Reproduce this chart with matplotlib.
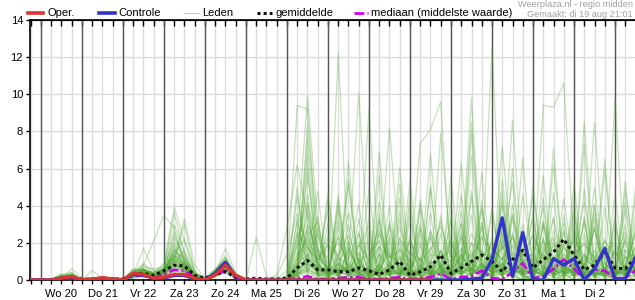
import matplotlib
matplotlib.use("Agg")
from matplotlib import pyplot as plt
from matplotlib.lines import Line2D
import numpy as np

plt.rcParams["font.family"] = ["Liberation Sans", "DejaVu Sans"]
plt.rcParams["font.size"] = 8

# 6-hourly steps, t=0 is wo 20 aug 00:00
tijd = list(range(-1, 59))
dag_labels = ["Wo 20", "Do 21", "Vr 22", "Za 23", "Zo 24", "Ma 25", "Di 26",
              "Wo 27", "Do 28", "Vr 29", "Za 30", "Zo 31", "Ma 1", "Di 2"]

oper = [0, 0, 0, 0.1, 0.18, 0.02, 0.05, 0.12, 0.05, 0, 0.36, 0.3, 0.1,
        0.15, 0.3, 0.3, 0.1, 0, 0.27, 0.8, 0.25, 0, 0, 0, 0,
        0, 0, 0, 0, 0, 0, 0, 0, 0, 0, 0, 0, 0, 0, 0]

controle = [0, 0, 0, 0.1, 0.15, 0, 0.05, 0.1, 0.05, 0, 0.3, 0.25, 0.1,
            0.1, 0.25, 0.25, 0.05, 0, 0.35, 0.95, 0.2, 0, 0, 0, 0,
            0, 0, 0, 0, 0, 0, 0, 0, 0, 0, 0, 0, 0, 0, 0, 0, 0, 0,
            0.05, 0.1, 1.1, 3.35, 0.2, 2.55, 0, 0, 1.15, 0.8, 1.15, 0, 0.6, 1.7, 0.05, 0.05, 1.2]

gemiddelde = [0, 0, 0.02, 0.1, 0.15, 0.05, 0.03, 0.08, 0.05, 0.05, 0.3, 0.35, 0.25,
              0.5, 0.8, 0.75, 0.25, 0.1, 0.3, 0.45, 0.15, 0.05, 0.1, 0.05, 0.05,
              0.1, 0.65, 1.05, 0.55, 0.55, 0.45, 0.45, 0.65, 0.5, 0.3, 0.55, 1.0,
              0.25, 0.45, 0.7, 1.35, 0.35, 0.65, 1.0, 1.35, 1.0, 0.45, 1.1, 1.6,
              0.65, 1.1, 1.5, 2.2, 1.35, 0.55, 0.8, 1.5, 0.65, 0.6, 1.2]

mediaan = [0, 0, 0, 0.05, 0.1, 0, 0, 0.05, 0, 0, 0.2, 0.25, 0.1,
           0.3, 0.55, 0.5, 0.1, 0, 0.3, 0.5, 0.1, 0, 0, 0, 0,
           0, 0.1, 0.2, 0.05, 0.05, 0.1, 0.15, 0.15, 0.05, 0.05, 0.1, 0.15,
           0.05, 0.1, 0.15, 0.35, 0.05, 0.15, 0.2, 0.5, 0.1, 0.05, 0.4, 0.9,
           0.1, 0.2, 0.6, 1.1, 0.6, 0.05, 0.55, 0.5, 0.1, 0.1, 0.5]

# ensemble members: t=-1..23 (first 25) then t=24..58
leden = [
    [0, 0,0,0.1,0.2, 0,0,0.1,0, 0,0.3,0.4,0.2, 0.3,0.8,0.6,0.1, 0,0.3,0.9,0.2, 0,0,0,0,
     0.2,9.4,9.2,1.5, 0.3,0.8,2.1,0.4, 0,0.5,3.2,0.8, 0.2,1.1,0.3,0, 0.5,2.4,0.6,1.2, 0.3,4.1,0.8,0.2, 0,1.5,3.3,0.9, 0.2,0.6,2.8,0.4, 0,1.2,0.5],
    [0, 0,0,0.2,0.1, 0,0.1,0,0, 0,0.5,0.3,0.1, 0.5,1.6,0.9,0.2, 0,0.5,1.2,0.3, 0,0,0,0.1,
     0.5,2.2,9.9,3.1, 0.4,1.2,0.3,0.1, 0.6,2.5,0.9,0.1, 0,0.4,1.8,0.7, 2.2,0.5,0.2,1.6, 0.8,0.2,3.5,1.1, 0.4,2.1,0.7,0, 1.3,4.2,1.1,0.3, 0.2,0.8,2.6],
    [0, 0,0,0,0.1, 0,0,0,0, 0.1,0.2,0.6,0.4, 0.9,3.9,2.1,0.4, 0.1,0.4,0.7,0.1, 0,0,0,0,
     0,0.6,8.25,2.4, 0.2,0.4,1.1,10.1, 0.9,0.3,0.5,1.2, 0.1,0.8,2.3,0.6, 0.2,0.9,1.4,0.3, 1.6,0.4,0.2,2.7, 0.5,9.4,9.3,10.6, 1.8,0.6,0.2,0.9, 0.4,0.3,1.1],
    [0, 0,0.1,0.3,0.2, 0,0,0.2,0.1, 0,0.4,0.9,0.3, 0.6,1.2,3.3,0.8, 0.1,0.6,1.0,0.3, 0,0,0,0,
     0,0.9,5.65,1.3, 0.6,2.3,0.5,0.2, 9.2,0.8,0.3,0.6, 0.2,0.3,1.0,0.4, 0.9,3.1,0.6,0.2, 0.3,1.2,0.6,0.4, 2.6,0.7,0.3,1.4, 0.8,0.2,0.5,1.7, 0.6,2.1,0.3],
    [0, 0,0,0.1,0.6, 0.1,0,0,0, 0,0.2,0.3,0.2, 0.4,1.0,0.8,0.3, 0,0.2,0.6,0.1, 0,0,0,0,
     0,0.2,1.4,0.6, 0.3,12.2,0.9,0.2, 0.4,0.8,8.2,1.1, 0.3,0.5,0.2,0.7, 1.1,0.4,2.0,0.5, 0.2,0.6,1.8,0.3, 0.1,0.3,0.9,0.4, 1.5,0.6,8.5,0.9, 0.3,0.7,0.4],
    [0, 0,0,0.2,0.3, 0,0,0.1,0, 0,0.6,0.4,0.1, 0.2,0.6,0.5,0.2, 0,0.4,1.7,0.4, 0,0,0,0,
     0.1,0.4,2.3,0.9, 0.2,0.6,0.4,1.5, 0.6,0.3,0.4,6.1, 0.8,7.35,8.1,9.6, 0.5,1.2,9.8,0.6, 12.5,0.8,0.3,1.0, 0.6,0.2,1.3,0.4, 0.3,0.9,0.4,0.2, 9.7,0.6,0.2],
    [0, 0,0,0,0.1, 0,0.5,0.1,0, 0,0.3,1.7,0.5, 0.3,0.9,0.6,0.1, 0,0.2,0.5,0.1, 0,0,0,0,
     0,0.3,0.8,0.4, 0.6,1.3,3.6,0.9, 0.4,0.2,0.7,0.3, 1.1,0.5,0.3,7.9, 1.4,0.6,8.5,0.8, 0.4,2.2,0.7,0.3, 0.6,1.4,0.5,0.9, 0.3,8.5,0.7,0.2, 0.4,1.3,0.6],
    [0, 0,0,0.1,0.1, 0,0,0,0, 0,0.2,0.8,2.1, 3.5,2.8,1.0,0.3, 0.1,0.3,0.8,0.2, 0,2.3,0.2,0,
     0,0.3,0.6,0.2, 0.4,0.2,0.9,0.5, 0.3,1.8,0.4,0.2, 0.5,0.3,2.4,0.6, 0.2,0.6,1.1,3.9, 0.7,0.4,0.2,1.1, 0.5,0.3,0.8,0.4, 2.5,0.6,0.3,0.4, 0.2,4.8,0.9],
    [0, 0,0,0.2,0.2, 0,0,0.1,0, 0.1,0.3,0.5,0.4, 0.8,3.0,1.5,0.2, 0,0.4,0.8,0.3, 0,0,0,0,
     0.3,4.5,1.2,0.6, 0.3,0.9,0.4,0.2, 0.7,4.2,1.3,0.4, 0.2,0.8,0.4,1.6, 0.3,0.9,0.5,2.8, 0.6,5.4,1.2,0.3, 0.5,0.2,6.2,0.8, 0.4,1.3,0.6,0.3, 0.5,0.4,1.8],
    [0, 0,0,0.1,0.3, 0,0,0,0.1, 0,0.4,0.5,0.3, 0.7,2.0,1.2,0.2, 0,0.3,0.7,0.2, 0,0,0,0,
     0,1.2,6.8,0.9, 0.4,0.3,0.7,1.2, 0.3,0.2,0.5,0.3, 1.6,0.7,0.4,0.2, 3.4,0.8,0.3,0.6, 0.2,7.2,1.1,0.4, 0.6,0.3,0.5,1.9, 0.4,0.2,0.8,6.5, 0.3,0.6,0.4],
    [0, 0,0,0,0, 0,0,0,0, 0,0.1,0.3,0.2, 0.3,0.6,0.5,0.1, 0,0.2,0.5,0.1, 0,0,0,0,
     0,0.2,0.4,2.5, 0.9,0.4,0.2,0.6, 0.4,1.4,0.6,0.3, 0.2,0.5,6.8,0.6, 0.4,1.3,0.5,0.3, 2.1,0.6,0.3,4.6, 0.9,0.3,0.2,0.7, 0.5,3.1,0.4,0.3, 0.6,0.3,0.2],
    [0, 0,0,0.1,0.2, 0,0,0,0, 0,0.4,0.3,0.2, 0.4,1.3,0.7,0.3, 0.1,0.5,1.1,0.2, 0,0,0,0.3,
     2.8,6.2,3.4,0.8, 0.3,0.6,0.4,0.2, 1.1,0.4,0.3,1.3, 0.6,0.2,0.4,0.8, 0.3,0.5,7.9,0.6, 0.2,0.9,0.4,2.3, 0.7,0.4,0.3,0.5, 0.2,1.2,0.6,0.4, 0.3,0.5,3.6],
    [0, 0,0,0.2,0.1, 0,0,0.1,0, 0,0.2,0.6,0.2, 0.5,1.0,3.0,0.4, 0,0.4,0.9,0.2, 0,0,0,0,
     0,0.4,7.6,1.5, 0.6,0.3,0.8,0.4, 0.3,0.6,1.5,0.5, 0.2,4.3,0.7,0.4, 0.6,0.3,0.9,0.5, 1.4,0.4,8.6,0.7, 0.4,0.8,0.3,0.2, 0.6,0.3,1.6,0.5, 0.4,0.2,0.6],
    [0, 0,0,0.1,0.1, 0,0,0,0, 0,0.3,0.4,0.1, 0.2,0.5,0.4,0.1, 0,0.3,0.6,0.1, 0,0,0,0,
     0,0.3,0.6,0.3, 0.2,0.5,0.3,0.8, 0.4,0.2,0.3,0.6, 0.3,0.2,0.5,0.4, 0.2,0.4,0.3,0.8, 0.4,0.3,0.6,0.2, 0.5,0.3,0.2,0.6, 0.3,0.4,0.2,0.3, 0.4,0.3,0.5],
    [0, 0,0,0.3,0.4, 0,0,0.1,0.1, 0.1,0.5,0.6,0.3, 0.6,2.4,1.1,0.2, 0,0.5,1.3,0.3, 0,0,0,0,
     0,0.7,3.8,0.6, 0.4,1.1,5.2,0.8, 0.5,0.3,0.9,0.4, 0.2,0.6,0.3,1.2, 0.5,6.3,0.9,0.4, 0.7,3.1,0.5,0.3, 1.2,0.6,0.4,0.8, 0.3,0.6,5.0,0.9, 0.4,0.8,2.4],
    [0, 0,0,0,0.2, 0,0,0,0, 0,0.2,0.3,0.1, 0.3,0.7,0.9,0.2, 0,0.3,0.8,0.2, 0,0,0,0,
     0,0.5,1.2,0.4, 4.4,0.8,0.5,0.3, 0.2,0.6,0.4,0.8, 0.3,0.4,1.4,0.6, 0.2,0.5,0.3,0.9, 0.4,0.6,0.3,1.0, 4.6,0.8,0.5,0.4, 0.7,0.3,1.1,0.6, 0.3,0.4,0.8],
    [0, 0,0,0.1,0.4, 0,0,0.2,0, 0,0.6,0.5,0.2, 0.4,1.8,0.7,0.2, 0,0.6,1.0,0.3, 0,0,0,0,
     0,2.1,4.6,0.9, 0.3,0.5,0.7,0.4, 0.6,3.2,0.5,0.3, 0.9,0.4,0.6,0.3, 0.5,1.4,0.6,0.9, 0.4,0.6,3.6,0.5, 0.3,1.1,0.4,0.7, 0.4,0.3,0.6,0.4, 1.6,0.5,0.3],
    [0, 0,0,0.2,0.2, 0,0,0,0, 0,0.3,0.5,0.4, 0.6,1.1,0.8,0.1, 0,0.4,0.7,0.2, 0,0,0,0,
     0,0.3,0.5,1.2, 0.6,0.4,0.3,0.9, 0.5,0.4,1.7,0.6, 5.3,0.8,0.4,0.3, 0.6,0.4,0.8,1.4, 0.5,0.9,0.4,0.6, 0.3,0.5,2.2,0.6, 0.4,0.7,0.3,0.5, 0.8,0.4,1.3],
    [0, 0,0,0.1,0.3, 0,0,0.1,0, 0,0.4,0.7,0.6, 0.7,3.6,1.4,0.3, 0,0.3,0.6,0.1, 0,0,0,0,
     0,0.8,2.6,0.7, 0.5,0.9,0.4,0.6, 0.3,0.7,0.4,4.4, 0.6,0.3,0.5,0.9, 0.4,0.8,0.3,0.5, 0.7,1.9,0.4,0.8, 0.5,0.3,7.1,0.6, 0.3,1.4,0.5,0.4, 0.6,0.3,0.7],
    [0, 0,0,0,0.1, 0,0,0,0, 0,0.1,0.2,0.1, 0.2,0.4,0.3,0.1, 0,0.2,0.4,0.1, 0,0,0,0,
     0,0.2,0.9,0.5, 0.3,0.4,0.6,0.3, 0.2,0.5,0.3,0.4, 0.6,0.3,0.2,0.5, 0.3,0.4,0.6,0.3, 0.2,0.4,0.3,0.5, 0.4,0.2,0.6,0.3, 0.5,0.3,0.4,0.2, 0.3,0.5,0.4],
    [0, 0,0,0.2,0.3, 0,0,0.1,0, 0,0.3,0.4,0.3, 0.5,1.5,1.2,0.3, 0,0.5,1.2,0.2, 0,0,0,0,
     0,0.6,1.8,0.5, 0.8,0.4,1.5,0.6, 0.3,0.8,0.5,0.4, 0.7,1.2,0.4,0.6, 0.3,0.6,4.8,0.7, 0.5,0.3,1.2,0.4, 0.6,2.9,0.5,0.3, 0.7,0.4,0.6,1.4, 0.5,0.6,0.4],
    [0, 0,0,0.1,0.2, 0,0,0,0, 0,0.2,0.4,0.2, 0.3,0.9,0.6,0.2, 0,0.3,0.8,0.2, 0,0,0,0,
     0,0.4,0.7,0.3, 0.5,2.4,0.6,0.3, 0.4,0.3,0.6,0.5, 0.3,0.5,0.3,0.7, 0.5,0.3,0.6,0.4, 0.8,0.5,0.3,0.6, 0.4,0.7,0.3,0.5, 3.7,0.6,0.4,0.3, 0.5,0.3,0.6],
    [0, 0,0,0.3,0.2, 0,0,0.1,0, 0,0.5,0.6,0.3, 0.5,1.4,2.2,0.5, 0,0.4,0.9,0.2, 0,0,0,0,
     0.2,3.1,0.9,0.4, 0.3,0.7,0.4,3.3, 0.6,0.4,0.8,0.3, 0.5,0.3,0.9,0.6, 0.4,0.7,0.5,0.3, 1.4,0.6,0.3,0.8, 0.5,0.3,0.6,0.4, 0.9,0.4,0.3,0.5, 0.4,0.8,0.3],
    [0, 0,0,0.1,0.1, 0,0,0,0, 0,0.3,0.3,0.2, 0.4,0.8,0.5,0.2, 0,0.3,0.6,0.1, 0,0,0,0,
     0,0.5,1.0,0.4, 0.3,0.6,0.4,0.5, 2.2,0.6,0.3,0.4, 0.6,0.4,0.3,0.5, 0.3,0.6,0.4,0.7, 0.5,0.4,0.6,0.3, 0.4,0.6,0.5,0.3, 0.6,0.4,0.3,0.5, 0.3,0.6,0.4],
    [0, 0,0,0.2,0.3, 0,0,0,0.1, 0,0.4,0.8,0.5, 0.6,2.6,0.9,0.3, 0,0.5,1.0,0.3, 0,0,0,0,
     0,1.5,0.8,0.6, 0.4,0.9,0.5,0.4, 0.7,0.5,2.0,0.6, 0.4,0.6,0.5,0.3, 0.8,0.4,0.6,0.5, 0.3,0.8,0.6,0.4, 0.7,0.4,0.5,3.1, 0.6,0.4,0.5,0.7, 0.4,0.6,0.5],
    [0, 0,0,0.1,0.2, 0,0,0.1,0, 0,0.2,0.5,0.3, 0.4,1.1,0.6,0.2, 0,0.4,0.7,0.2, 0,0,0,0,
     0,1.8,4.2,0.3, 0,2.9,0.2,1.4, 0,3.6,0.4,0, 2.2,0.3,4.9,0.6, 0,1.7,0.2,3.8, 0.4,0,2.6,0.3, 5.1,0.2,0,1.9, 0.3,3.4,0.1,0.6, 2.4,0,3.1],
    [0, 0,0,0,0.1, 0,0,0,0, 0,0.2,0.3,0.2, 0.3,0.7,0.5,0.1, 0,0.2,0.5,0.1, 0,0,0,0,
     0,0.3,2.9,1.1, 3.8,0.2,0,2.1, 0.4,5.6,0.3,0, 1.2,0,2.7,0.5, 3.3,0.2,1.0,0, 0.6,4.4,0.1,2.0, 0,3.1,0.4,0, 2.8,0.3,4.0,0.2, 0,1.6,0.5],
    [0, 0,0,0.2,0.1, 0,0,0,0, 0,0.3,0.6,0.2, 0.5,1.7,0.8,0.2, 0,0.3,0.8,0.2, 0,0,0,0,
     0,1.0,3.5,0.7, 0,4.6,0.3,1.8, 2.9,0,0.4,3.3, 0.2,2.1,0,0.8, 4.2,0.3,0,2.4, 0.1,1.8,5.3,0.2, 0,2.2,0.3,4.4, 0.6,0,2.9,0.3, 3.4,0.2,0],
    [0, 0,0,0.1,0.3, 0,0,0,0, 0,0.4,0.4,0.3, 0.4,1.2,0.7,0.2, 0,0.4,0.9,0.2, 0,0,0,0,
     0,0.6,1.1,3.4, 0.2,0,5.4,0.4, 0,2.6,0.9,0, 3.9,0.2,0,2.5, 0.3,4.6,0.2,0.9, 0,2.8,0.3,0, 3.6,0.1,1.9,0.4, 0,4.9,0.2,1.6, 0,2.4,0.3],
    [0, 0,0,0.1,0.2, 0,0,0.1,0, 0.1,0.3,0.5,0.3, 0.6,1.3,0.9,0.3, 0,0.5,1.1,0.2, 0,0,0,0,
     0,1.3,2.2,0.2, 3.1,0,1.7,0.5, 0,0.6,4.0,0.2, 2.4,0,0.8,3.2, 0,1.4,0.3,5.8, 0.2,0,3.3,0.4, 1.6,0,2.7,0.3, 4.3,0.2,0,2.2, 0.3,3.8,0.1],
    [0, 0,0,0.2,0.2, 0,0,0,0, 0,0.2,0.4,0.2, 0.4,0.9,1.6,0.4, 0,0.3,0.7,0.2, 0,0,0,0,
     0,0.5,0.9,2.8, 0,3.7,0.3,0, 1.9,0.2,3.0,0.1, 0,4.1,0.5,0, 2.7,0.3,0,3.1, 0.2,4.8,0.4,0, 1.3,3.9,0.2,0, 5.2,0.3,1.1,0, 2.9,0.4,0],
    [0, 0,0,0.1,0.1, 0,0,0,0, 0,0.3,0.5,0.4, 0.5,1.0,0.7,0.2, 0,0.4,0.8,0.2, 0,0,0,0,
     0,0.8,1.4,0.3, 2.2,0,1.2,4.1, 0.3,0,2.4,0.6, 0,3.1,0.2,1.5, 0.4,2.6,0,0.3, 3.7,0.2,1.5,0, 0.4,2.3,0,3.5, 0.1,0.7,2.8,0, 1.9,0.3,4.5],
    [0, 0,0,0.1,0.2, 0,0,0,0, 0,0.2,0.3,0.2, 0.3,0.8,0.6,0.2, 0,0.3,0.6,0.1, 0,0,0,0,
     0,0.4,3.0,1.6, 0.3,0,2.0,0.2, 3.4,0.1,0,1.7, 0.3,3.8,0.2,0, 2.1,0.3,3.5,0, 0.8,0.2,2.4,0.1, 0,3.0,0.3,1.2, 0.2,2.5,0,0.4, 3.2,0.2,0.6],
    [0, 0,0,0.2,0.3, 0,0,0.1,0, 0,0.4,0.4,0.2, 0.5,1.9,1.0,0.3, 0,0.4,0.9,0.3, 0,0,0,0,
     0,0.9,2.0,0.2, 4.7,0.3,0,1.1, 0.2,3.3,0.1,2.0, 0,0.5,3.6,0.2, 1.5,0,0.4,4.3, 0.2,2.0,0,1.4, 3.3,0.2,0,2.6, 0.3,0,4.1,0.3, 0.2,2.2,0.1],
    [0, 0,0,0,0.1, 0,0,0,0, 0,0.2,0.2,0.1, 0.2,0.5,0.4,0.1, 0,0.2,0.4,0.1, 0,0,0,0,
     0,0.2,0.5,0.3, 0.2,0.4,0.3,0.2, 0.3,0.2,0.4,0.3, 0.2,0.3,0.2,0.4, 0.3,0.2,0.3,0.5, 0.2,0.3,0.2,0.4, 0.3,0.2,0.4,0.2, 0.3,0.2,0.3,0.4, 0.2,0.3,0.2],
    [0, 0,0,0.1,0.2, 0,0,0,0, 0,0.3,0.5,0.3, 0.4,1.2,0.8,0.2, 0,0.4,0.8,0.2, 0,0,0,0.2,
     1.4,3.6,1.8,0.9, 2.4,1.2,0.8,1.9, 1.1,2.8,1.3,0.9, 2.1,1.0,1.6,2.9, 1.2,0.9,2.5,1.3, 1.8,1.1,2.4,1.0, 1.4,3.2,1.2,0.9, 2.2,1.3,1.0,1.8, 1.2,2.6,1.1],
    [0, 0,0,0.2,0.2, 0,0,0,0, 0,0.3,0.3,0.2, 0.4,0.8,0.6,0.2, 0,0.3,0.7,0.2, 0,0,0,0,
     0.1,1.9,2.7,0.2, 0,4.3,0.3,1.1, 0,0.9,2.2,0, 3.4,0.2,0,1.6, 0.3,3.0,0.1,0, 1.2,0.2,4.1,0.3, 0,1.5,2.3,0.1, 3.6,0.2,0,1.4, 0.2,4.2,0.3],
    [0, 0,0,0.1,0.2, 0,0,0,0, 0,0.3,0.4,0.2, 0.5,1.4,0.9,0.2, 0,0.4,0.8,0.2, 0,0,0,0,
     0,0.8,4.1,1.6, 1.2,2.0,1.1,2.5, 0.9,1.8,1.2,2.2, 1.4,1.1,2.6,1.3, 1.0,1.7,1.2,2.3, 1.6,1.1,1.9,1.3, 2.4,1.2,1.0,1.7, 1.3,2.0,1.1,1.6, 1.9,1.2,1.4],
    [0, 0,0,0.2,0.1, 0,0,0,0, 0,0.3,0.5,0.3, 0.5,1.6,1.1,0.3, 0,0.4,0.9,0.2, 0,0,0,0,
     0,1.1,2.4,3.1, 0.2,0,1.8,0.3, 2.6,0,0.4,3.7, 0.1,1.9,0.3,0, 2.2,0.2,1.6,0, 0.4,2.5,0,3.0, 0.2,1.8,0.1,2.7, 0,3.3,0.2,0.4, 1.6,0,1.9],
    [0, 0,0,0.1,0.3, 0,0,0.1,0, 0,0.4,0.6,0.3, 0.6,2.2,1.3,0.3, 0,0.5,1.0,0.3, 0,0,0,0,
     0,2.6,1.7,1.1, 1.9,1.3,2.4,1.0, 1.4,2.1,1.2,1.6, 1.1,2.8,1.4,1.2, 1.6,1.1,2.0,1.5, 1.2,1.7,2.2,1.3, 1.8,1.3,1.1,2.0, 1.4,1.9,1.2,2.1, 1.3,1.6,1.2],
    [0, 0,0,0.1,0.2, 0,0,0,0, 0,0.3,0.4,0.2, 0.4,1.0,0.6,0.2, 0,0.3,0.7,0.2, 0,0,0,0,
     0,3.3,0.5,0, 2.0,0.1,6.4,0.3, 0,1.4,0.2,2.9, 0.4,0,5.1,0.2, 0,2.3,0.3,0, 3.9,0.2,0,1.7, 0.3,0,4.7,0.2, 1.2,0,3.6,0.3, 0,5.3,0.2],
    [0, 0,0,0.2,0.2, 0,0,0.1,0, 0,0.2,0.5,0.3, 0.5,1.3,0.8,0.2, 0,0.4,0.8,0.2, 0,0,0,0,
     0,0.4,6.1,0.3, 0.2,3.2,0,0.5, 4.9,0.2,0,2.3, 0.1,0.3,0,3.5, 0.2,0,6.7,0.3, 0.1,2.6,0.2,0, 0.4,5.6,0.2,0, 3.0,0.1,0.3,5.9, 0,0.2,2.8],
    [0, 0,0,0.1,0.1, 0,0,0,0, 0,0.2,0.3,0.1, 0.3,0.8,0.5,0.1, 0,0.3,0.6,0.1, 0,0,0,0,
     0,0.2,1.3,4.8, 0.2,0,0.3,2.6, 0,6.9,0.2,0, 0.3,2.5,0,0.2, 5.5,0.1,0,3.1, 0.2,0,6.0,0.3, 0,0.2,3.4,0, 0.3,7.3,0.2,0, 0.4,0,5.0],
    [0, 0,0,0.2,0.3, 0,0,0,0, 0,0.4,0.5,0.2, 0.5,1.4,0.9,0.3, 0,0.4,0.9,0.2, 0,0,0,0,
     0,2.5,0.3,0, 0.2,4.0,0.2,0, 0.3,0,2.9,0.2, 4.4,0.2,0,0.8, 0,3.7,0.2,0, 2.3,0,0.4,6.6, 0.2,0,2.0,0.3, 0,0.2,3.3,0, 4.6,0.2,0],
    [0, 0,0,0.1,0.2, 0,0,0,0, 0,0.3,0.4,0.3, 0.4,1.1,0.7,0.2, 0,0.3,0.8,0.2, 0,0,0,0,
     0,5.0,0.4,0.2, 0,0.3,3.0,0, 0.2,0,0.3,5.2, 0,2.8,0.2,0, 0.3,0,4.5,0.2, 0,3.4,0.2,0, 0.2,4.4,0,0.3, 2.1,0,0.2,3.9, 0.2,3.0,0],
]

for lid in leden:
    assert len(lid) == len(tijd), len(lid)

fig = plt.figure(figsize=(6.35, 3.0), dpi=100)
ax = fig.add_axes([30 / 635, 20 / 300, 605 / 635, 260 / 300])

# grid: light every 6h, dark at day boundaries, light horizontal
for t in range(-1, 59):
    ax.axvline(t, color="#dcdcdc", lw=1.0, zorder=0)
for t in range(0, 59, 4):
    ax.axvline(t, color="#555555", lw=1.0, zorder=0.5)
for y in range(2, 14, 2):
    ax.axhline(y, color="#dcdcdc", lw=1.0, zorder=0)

for lid in leden:
    ax.plot(tijd, lid, color="#4fa630", lw=0.9, alpha=0.32, zorder=1)

ax.plot(tijd, mediaan, color="#d200f0", lw=1.9, ls=(0, (3.5, 1.2, 0.8, 1.2)), zorder=3)
ax.plot(tijd, gemiddelde, color="#111111", lw=2.2, ls=(0, (1, 1)), zorder=4)
ax.plot(tijd, controle, color="#3333cc", lw=2.4, zorder=5)
ax.plot(tijd[:len(oper)], oper, color="#dd3333", lw=2.4, zorder=6)

ax.set_xlim(-1.07, 57.95)
ax.set_ylim(0, 14)
ax.set_yticks(range(0, 15, 2))
ax.set_xticks([2 + 4 * i for i in range(len(dag_labels))])
ax.set_xticklabels(dag_labels)
ax.set_xticks(range(-1, 58), minor=True)
ax.tick_params(axis="x", which="both", direction="out", length=3, width=1, pad=3.5, colors="#000000")
ax.tick_params(axis="y", direction="out", length=3, width=1, pad=2)
for side in ["left", "bottom", "top"]:
    ax.spines[side].set_linewidth(1.2)
ax.spines["right"].set_visible(False)

top = ax.secondary_xaxis("top")
top.set_xticks(range(-1, 58))
top.tick_params(direction="in", length=4, width=1, labeltop=False)
top.set_xticklabels([])

# legend drawn along the top
def px(x, y):
    return x / 635, 1 - y / 300

ly = 13
legend_items = [
    (28, 43, 48, "Oper.", dict(color="#dd3333", lw=2.6)),
    (99, 115, 118, "Controle", dict(color="#3333cc", lw=2.6)),
    (184, 199, 202, "Leden", dict(color="#b8dba5", lw=0.9)),
    (257, 272, 276, "gemiddelde", dict(color="#111111", lw=2.2, ls=(0, (1, 1)))),
    (354, 368, 371, "mediaan (middelste waarde)", dict(color="#d200f0", lw=2.0, ls=(0, (3.5, 1.2, 0.8, 1.2)))),
]
for x0, x1, xt, txt, st in legend_items:
    a, b = px(x0, ly)
    c, _ = px(x1, ly)
    fig.add_artist(Line2D([a, c], [b, b], transform=fig.transFigure, **st))
    tx, ty = px(xt, ly)
    fig.text(tx, ty, txt, fontsize=8, va="center", ha="left")

fig.text(633 / 635, 1 - 4.5 / 300, "Weerplaza.nl - regio midden", fontsize=6.6,
         color="#a0a0a0", ha="right", va="center")
fig.text(633 / 635, 1 - 14.5 / 300, "Gemaakt: di 19 aug 21:01", fontsize=6.6,
         color="#a0a0a0", ha="right", va="center")

fig.savefig("out.png", dpi=100)
